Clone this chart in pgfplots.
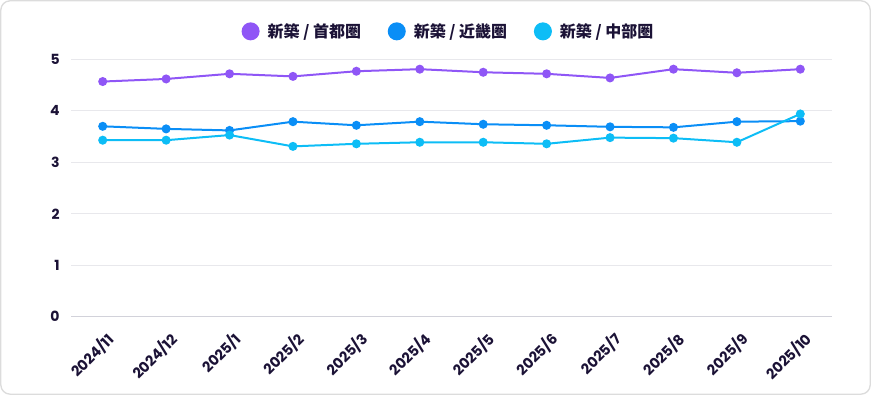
\documentclass[border=0pt]{standalone}
\usepackage{pgfplots}
\pgfplotsset{compat=1.18}
\usepackage{fontspec}
\setmainfont{Poppins}
\newfontfamily\cjk{Noto Sans CJK JP}
\definecolor{cPur}{HTML}{8F56F6}
\definecolor{cBlu}{HTML}{0A8EF6}
\definecolor{cCya}{HTML}{0DBDF6}
\definecolor{cTxt}{HTML}{1B1236}
\definecolor{cGrid}{HTML}{E8E8EC}
\definecolor{cAxis}{HTML}{D2D2DA}
\definecolor{cFrame}{HTML}{DCDCDC}
\begin{document}
\begin{tikzpicture}
\path[use as bounding box] (0,0) rectangle (653.25pt,296.25pt);
\draw[cFrame, line width=1pt, rounded corners=7pt] (0.6pt,0.6pt) rectangle (652.65pt,295.65pt);
\begin{axis}[
  at={(53.25pt,58.7pt)}, anchor=south west,
  scale only axis, width=570.75pt, height=193pt,
  xmin=-0.5, xmax=11.5, ymin=0, ymax=5,
  clip=false,
  axis line style={draw=none},
  axis x line*=bottom,
  axis y line*=left,
  major tick length=0,
  ytick={0,1,2,3,4,5},
  ymajorgrids, grid style={cGrid, line width=0.8pt},
  xtick={0,...,11},
  xticklabels={2024/11,2024/12,2025/1,2025/2,2025/3,2025/4,2025/5,2025/6,2025/7,2025/8,2025/9,2025/10},
  xticklabel style={xshift=7pt, yshift=-14pt, rotate=45, anchor=east, font=\bfseries\fontsize{10.8}{12}\selectfont, text=cTxt, inner sep=1pt},
  yticklabel style={font=\bfseries\fontsize{10.5}{12}\selectfont, text=cTxt, xshift=-5pt},
  /pgf/number format/assume math mode=true,
  legend columns=3,
  legend style={at={(0.5,1.109)}, anchor=center, draw=none, fill=none,
    font=\cjk\bfseries\fontsize{12}{14}\selectfont, text=cTxt,
    nodes={inner xsep=6pt},
    /tikz/every even column/.append style={column sep=14pt}},
  legend image code/.code={\fill[#1] (0,0) circle (6pt);},
  every axis plot/.append style={line width=1.5pt, mark=*, mark size=2.6pt},
]
\draw[cAxis, line width=0.9pt] (axis cs:-0.5,0) -- (axis cs:11.5,0);
\addplot[cPur, mark options={fill=cPur, draw=cPur}] coordinates {
(0,4.57) (1,4.62) (2,4.72) (3,4.67) (4,4.77) (5,4.81) (6,4.75) (7,4.72) (8,4.64) (9,4.81) (10,4.74) (11,4.81)};
\addlegendentry{新築 / 首都圏}
\addplot[cBlu, mark options={fill=cBlu, draw=cBlu}] coordinates {
(0,3.70) (1,3.65) (2,3.62) (3,3.79) (4,3.72) (5,3.79) (6,3.74) (7,3.72) (8,3.69) (9,3.68) (10,3.79) (11,3.80)};
\addlegendentry{新築 / 近畿圏}
\addplot[cCya, mark options={fill=cCya, draw=cCya}] coordinates {
(0,3.43) (1,3.43) (2,3.53) (3,3.31) (4,3.36) (5,3.39) (6,3.39) (7,3.36) (8,3.48) (9,3.47) (10,3.39) (11,3.94)};
\addlegendentry{新築 / 中部圏}
\end{axis}
\end{tikzpicture}
\end{document}
